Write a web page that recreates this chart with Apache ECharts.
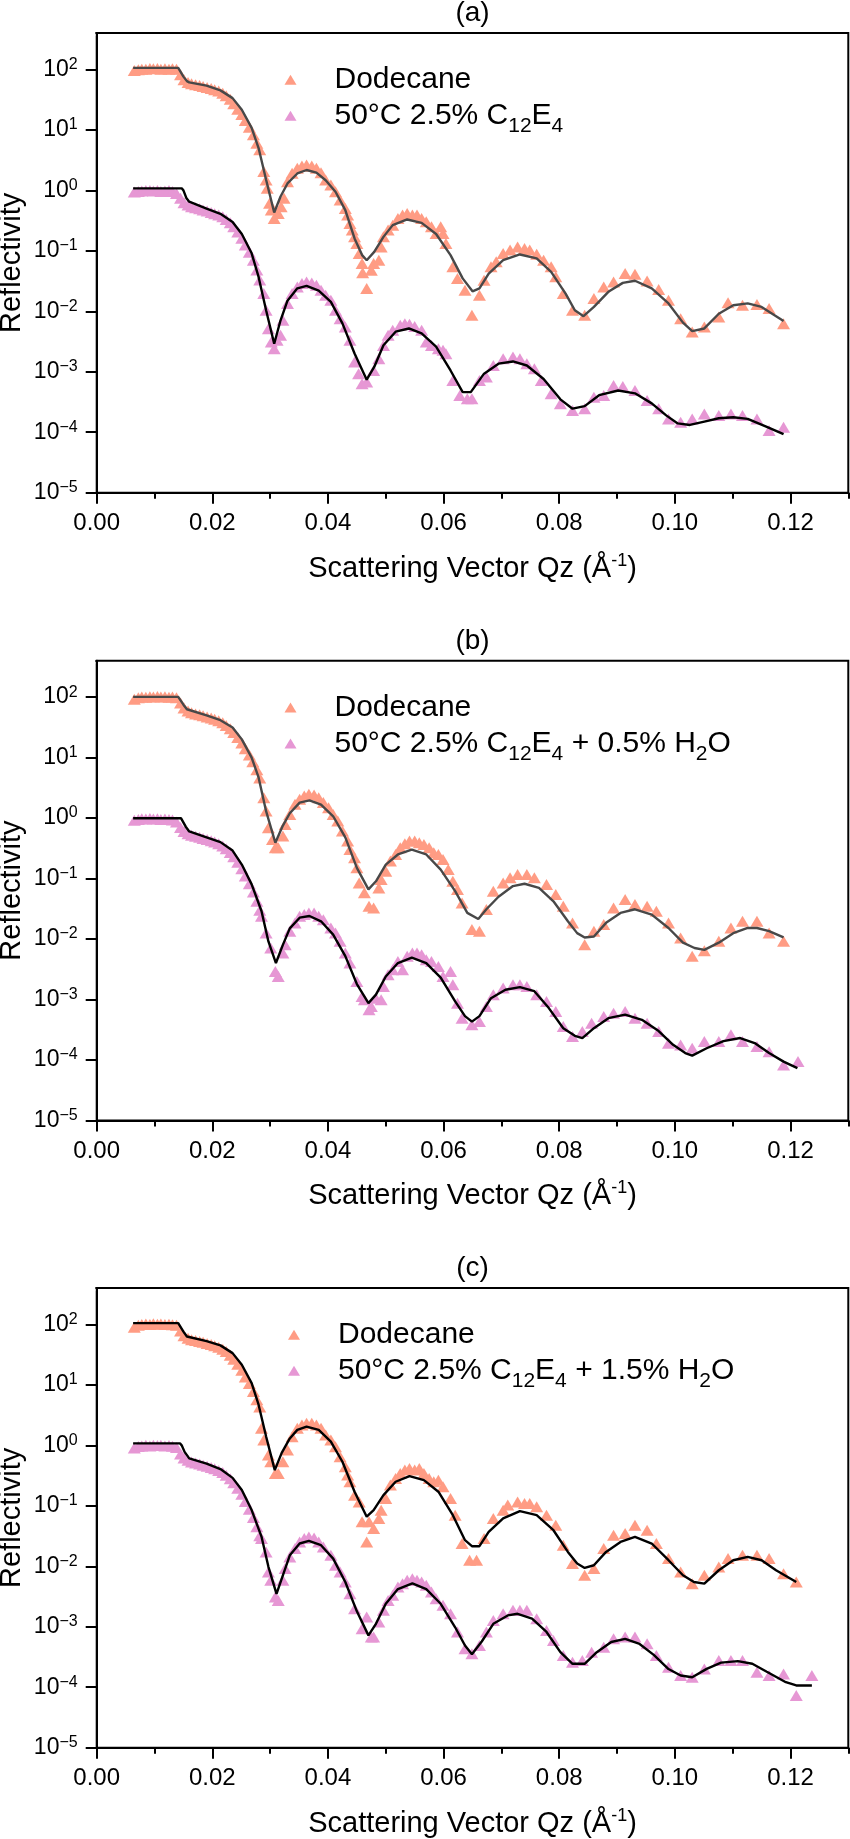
<!DOCTYPE html>
<html><head><meta charset="utf-8">
<script src="https://cdn.jsdelivr.net/npm/echarts@6/dist/echarts.min.js"></script>
<style>html,body{margin:0;padding:0;background:#fff}#c{width:850px;height:1839px}</style>
</head><body><div id="c"></div>
<script>
const panelTitles = ['(a)', '(b)', '(c)'];
const xTickValues = [0, 0.02, 0.04, 0.06, 0.08, 0.10, 0.12];
const yDecades = [1e-5, 1e-4, 1e-3, 1e-2, 1e-1, 1, 10, 100];
const dodName = 'Dodecane';
const mixNames = ['50°C 2.5% C12E4', '50°C 2.5% C12E4 + 0.5% H2O', '50°C 2.5% C12E4 + 1.5% H2O'];

// ---------- panel (a) ----------
const aDod = [[0.0065,96],[0.0072,98.7],[0.0078,101],[0.0085,101],[0.0092,104],[0.0098,102.5],[0.0105,104],[0.0111,101],[0.0118,102.5],[0.0125,101],[0.0131,102.5],[0.0138,101],[0.0145,81.5],[0.0151,67.4],[0.0158,60.9],[0.0164,57.9],[0.0171,55.7],[0.0178,54.3],[0.0184,52.3],[0.0191,50.3],[0.0198,48.4],[0.0204,46],[0.0211,43.8],[0.0218,40.5],[0.0224,36.6],[0.0231,32.2],[0.0237,27],[0.0244,22],[0.0251,18],[0.0257,14.3],[0.0264,11.1],[0.0271,8.3],[0.0277,6],[0.0282,4.7],
[0.0289,2.04],[0.0293,1.48],[0.0295,1.08],[0.0299,0.609],[0.0302,0.472],[0.0307,0.343],[0.0314,0.416],[0.0319,0.536],[0.0324,0.737],[0.0330,1.39],[0.0338,1.91],[0.0347,2.32],[0.0355,2.53],[0.0363,2.63],[0.0372,2.53],[0.0380,2.32],[0.0388,1.96],[0.0396,1.48],[0.0405,1.23],[0.0413,0.95],[0.0421,0.692],[0.0430,0.503],[0.0434,0.39],[0.0438,0.284],[0.0442,0.22],[0.0446,0.171],[0.0450,0.132],[0.0454,0.0903],[0.0459,0.0617],[0.0460,0.0432],[0.0467,0.0238],[0.0475,0.0478],[0.0479,0.0617],[0.0488,0.07],[0.0492,0.116],[0.0496,0.171],[0.0504,0.22],[0.0512,0.266],[0.0521,0.343],[0.0529,0.39],[0.0537,0.416],[0.0546,0.39],[0.0554,0.39],[0.0562,0.343],[0.0570,0.302],[0.0579,0.25],[0.0587,0.194],[0.0595,0.25],[0.0599,0.194],[0.0604,0.132],[0.0616,0.0543],[0.0624,0.0348],[0.0637,0.0223],[0.0649,0.00859],[0.0662,0.0184],[0.0670,0.0326],[0.0682,0.0543],[0.0691,0.0657],[0.0703,0.0903],[0.0715,0.103],[0.0728,0.116],[0.0740,0.109],[0.0749,0.103],[0.0761,0.088],[0.0773,0.07],[0.0786,0.0543],[0.0794,0.0371],[0.0807,0.0196],[0.0823,0.0104],[0.0844,0.00859],[0.0860,0.0162],[0.0877,0.0253],[0.0894,0.0306],[0.0914,0.0421],[0.0931,0.041],[0.0952,0.0318],[0.0972,0.0229],[0.0989,0.0152],[0.1010,0.00756],[0.1030,0.00455],[0.1051,0.0055],[0.1076,0.00806],[0.1092,0.0138],[0.1117,0.0126],[0.1142,0.013],[0.1163,0.0111],[0.1188,0.00625]];
const aMix = [[0.0065,0.94],[0.0072,0.96],[0.0078,0.975],[0.0085,0.99],[0.0092,0.99],[0.0098,0.975],[0.0105,0.99],[0.0111,0.96],[0.0118,0.975],[0.0125,0.99],[0.0131,0.96],[0.0138,0.89],[0.0145,0.737],[0.0151,0.625],[0.0158,0.571],[0.0164,0.536],[0.0171,0.516],[0.0178,0.497],[0.0184,0.472],[0.0191,0.454],[0.0198,0.432],[0.0204,0.41],[0.0211,0.39],[0.0218,0.366],[0.0224,0.331],[0.0231,0.291],[0.0237,0.25],[0.0244,0.204],[0.0251,0.162],[0.0257,0.125],[0.0264,0.095],[0.0271,0.07],[0.0277,0.048],[0.0282,0.033],
[0.0289,0.0196],[0.0293,0.0104],[0.0297,0.00516],[0.0302,0.0031],[0.0307,0.0024],[0.0312,0.00331],[0.0318,0.004],[0.0322,0.00709],[0.0330,0.0134],[0.0338,0.0196],[0.0347,0.0253],[0.0355,0.0287],[0.0363,0.0306],[0.0372,0.0295],[0.0380,0.027],[0.0388,0.0223],[0.0396,0.0184],[0.0405,0.0152],[0.0413,0.0104],[0.0421,0.00756],[0.0430,0.0055],[0.0438,0.00331],[0.0446,0.00145],[0.0453,0.000926],[0.0459,0.000632],[0.0467,0.000674],[0.0479,0.00105],[0.0488,0.00164],[0.0496,0.00273],[0.0504,0.004],[0.0512,0.00484],[0.0525,0.00586],[0.0533,0.00625],[0.0541,0.0061],[0.0550,0.0056],[0.0562,0.00484],[0.0570,0.0031],[0.0579,0.00273],[0.0591,0.0024],[0.0599,0.00226],[0.0604,0.00199],[0.0616,0.000718],[0.0628,0.000405],[0.0641,0.000357],[0.0649,0.000357],[0.0662,0.000718],[0.0674,0.000816],[0.0686,0.00127],[0.0703,0.00164],[0.0720,0.00175],[0.0732,0.00164],[0.0744,0.00136],[0.0757,0.00112],[0.0769,0.000718],[0.0786,0.000432],[0.0802,0.000295],[0.0823,0.000229],[0.0844,0.000244],[0.0860,0.00038],[0.0877,0.000405],[0.0894,0.000593],[0.0910,0.000571],[0.0931,0.00049],[0.0952,0.000335],[0.0972,0.000244],[0.0989,0.000166],[0.1010,0.000146],[0.1030,0.000166],[0.1051,0.000201],[0.1076,0.000189],[0.1097,0.000201],[0.1117,0.000189],[0.1142,0.000166],[0.1163,0.000107],[0.1188,0.000121]];
const aDodFit = [[0.0063,106],[0.0141,106],[0.0144,102],[0.0150,76],[0.0156,64],[0.016,61],[0.019,54],[0.0214,45],[0.0235,33.5],[0.0251,21.5],[0.0268,10.8],[0.028,5],[0.0293,1.5],[0.0307,0.43],[0.0318,0.79],[0.033,1.3],[0.0347,1.9],[0.0363,2.17],[0.038,1.96],[0.0396,1.47],[0.0413,0.95],[0.043,0.47],[0.0446,0.16],[0.0459,0.085],[0.0467,0.07],[0.048,0.096],[0.0496,0.17],[0.0512,0.266],[0.0537,0.33],[0.0562,0.29],[0.0587,0.19],[0.0612,0.085],[0.0633,0.035],[0.065,0.0214],[0.0662,0.024],[0.0678,0.042],[0.0703,0.07],[0.0732,0.087],[0.0761,0.075],[0.0786,0.045],[0.0811,0.0196],[0.0827,0.0104],[0.0842,0.0083],[0.086,0.0118],[0.0885,0.021],[0.091,0.0295],[0.0931,0.032],[0.096,0.024],[0.0989,0.0135],[0.1014,0.0065],[0.103,0.0047],[0.1051,0.0052],[0.1076,0.0091],[0.1101,0.0126],[0.1126,0.0135],[0.115,0.0118],[0.1188,0.0069]];
const aMixFit = [[0.0063,1.08],[0.0147,1.08],[0.0150,1.0],[0.0155,0.75],[0.016,0.65],[0.019,0.5],[0.0214,0.41],[0.0235,0.3],[0.0251,0.19],[0.0268,0.091],[0.028,0.037],[0.0293,0.0104],[0.0307,0.0029],[0.0318,0.0071],[0.033,0.015],[0.0347,0.024],[0.0363,0.0263],[0.0384,0.022],[0.0405,0.0143],[0.0425,0.0063],[0.0446,0.002],[0.0467,0.00074],[0.048,0.0012],[0.0496,0.00275],[0.0517,0.0046],[0.054,0.0052],[0.0562,0.0043],[0.0587,0.0026],[0.0612,0.00105],[0.0633,0.00046],[0.0647,0.00046],[0.067,0.00093],[0.0695,0.00136],[0.072,0.00148],[0.0744,0.00127],[0.0773,0.00076],[0.0802,0.00035],[0.0823,0.000245],[0.0844,0.00027],[0.0869,0.00041],[0.0902,0.00049],[0.0931,0.00044],[0.096,0.0003],[0.0985,0.00019],[0.1005,0.00014],[0.1026,0.000132],[0.1051,0.00015],[0.1076,0.00017],[0.1101,0.000177],[0.1126,0.000166],[0.1159,0.000123],[0.1188,0.000093]];

// ---------- panel (b) ----------
const bDod = [[0.0065,92],[0.0072,98],[0.0078,100],[0.0085,99],[0.0092,101],[0.0098,100],[0.0105,102],[0.0111,100],[0.0118,101],[0.0125,99],[0.0131,100],[0.0138,98],[0.0145,80],[0.0151,66],[0.0158,59],[0.0164,55],[0.0171,52.5],[0.0178,51],[0.0184,49],[0.0191,47],[0.0198,45],[0.0204,43],[0.0211,40.5],[0.0218,37.5],[0.0224,34],[0.0231,30],[0.0237,26],[0.0244,21.5],[0.0251,17.5],[0.0257,14],[0.0264,11],[0.027,8.5],[0.0277,6.3],[0.0282,4.6],
[0.0289,2.17],[0.0293,1.31],[0.0297,0.692],[0.0304,0.443],[0.0309,0.322],[0.0314,0.322],[0.0322,0.503],[0.0326,0.785],[0.0334,1.15],[0.0343,1.69],[0.0351,2.04],[0.0359,2.32],[0.0367,2.47],[0.0376,2.41],[0.0384,2.17],[0.0392,1.80],[0.0401,1.48],[0.0409,1.15],[0.0417,0.89],[0.0425,0.609],[0.0434,0.416],[0.0438,0.302],[0.0446,0.22],[0.0450,0.15],[0.0454,0.0847],[0.0463,0.0579],[0.0471,0.0348],[0.0479,0.0326],[0.0488,0.07],[0.0492,0.0963],[0.0500,0.132],[0.0508,0.194],[0.0517,0.25],[0.0525,0.322],[0.0533,0.376],[0.0541,0.416],[0.0550,0.416],[0.0558,0.39],[0.0566,0.366],[0.0575,0.322],[0.0583,0.266],[0.0591,0.25],[0.0599,0.206],[0.0608,0.141],[0.0616,0.0903],[0.0624,0.0657],[0.0632,0.0395],[0.0649,0.0143],[0.0662,0.0134],[0.0674,0.0306],[0.0686,0.0617],[0.0703,0.0847],[0.0715,0.103],[0.0728,0.116],[0.0744,0.116],[0.0757,0.103],[0.0778,0.0795],[0.0794,0.0543],[0.0807,0.0348],[0.0823,0.0184],[0.0844,0.00806],[0.0860,0.0134],[0.0877,0.0173],[0.0894,0.0326],[0.0914,0.0448],[0.0931,0.0371],[0.0952,0.0348],[0.0968,0.0287],[0.0989,0.0184],[0.1010,0.0104],[0.1030,0.00516],[0.1051,0.00641],[0.1076,0.00915],[0.1097,0.0152],[0.1117,0.0196],[0.1142,0.0196],[0.1163,0.0126],[0.1188,0.00915]];
const bMix = [[0.0065,0.92],[0.0072,0.95],[0.0078,0.97],[0.0085,0.96],[0.0092,0.98],[0.0098,0.96],[0.0105,0.97],[0.0111,0.95],[0.0118,0.96],[0.0125,0.95],[0.0131,0.93],[0.0138,0.86],[0.0145,0.7],[0.0151,0.6],[0.0158,0.55],[0.0164,0.52],[0.0171,0.5],[0.0178,0.48],[0.0184,0.46],[0.0191,0.44],[0.0198,0.42],[0.0204,0.4],[0.0211,0.375],[0.0218,0.345],[0.0224,0.31],[0.0231,0.27],[0.0237,0.23],[0.0244,0.185],[0.0251,0.145],[0.0257,0.11],[0.0264,0.082],[0.0271,0.06],[0.0277,0.042],[0.0282,0.03],
[0.0285,0.0238],[0.0293,0.0126],[0.0301,0.00709],[0.0309,0.00291],[0.0314,0.0024],[0.0322,0.00586],[0.0326,0.00806],[0.0334,0.0134],[0.0343,0.0184],[0.0351,0.0238],[0.0359,0.0253],[0.0367,0.027],[0.0376,0.027],[0.0384,0.0238],[0.0392,0.0209],[0.0405,0.0152],[0.0413,0.0126],[0.0421,0.00915],[0.0430,0.00586],[0.0438,0.004],[0.0450,0.00199],[0.0459,0.00112],[0.0463,0.000988],[0.0471,0.000674],[0.0475,0.000766],[0.0483,0.00105],[0.0492,0.000988],[0.0496,0.00164],[0.0504,0.00256],[0.0512,0.0031],[0.0521,0.00426],[0.0529,0.0031],[0.0537,0.00516],[0.0546,0.00586],[0.0554,0.00586],[0.0562,0.0055],[0.0570,0.00455],[0.0579,0.00426],[0.0591,0.00352],[0.0599,0.0024],[0.0612,0.00291],[0.0616,0.00175],[0.0624,0.000869],[0.0632,0.00049],[0.0649,0.00038],[0.0662,0.000432],[0.0674,0.000766],[0.0686,0.0012],[0.0703,0.00154],[0.0720,0.00175],[0.0732,0.00175],[0.0744,0.00164],[0.0761,0.0012],[0.0778,0.000926],[0.0794,0.000632],[0.0807,0.000357],[0.0823,0.000244],[0.0840,0.000295],[0.0856,0.000405],[0.0877,0.000523],[0.0894,0.000593],[0.0914,0.000632],[0.0931,0.00049],[0.0952,0.000405],[0.0972,0.000295],[0.0989,0.000189],[0.1010,0.000177],[0.1030,0.000156],[0.1051,0.000201],[0.1076,0.000201],[0.1097,0.00026],[0.1117,0.000201],[0.1142,0.000166],[0.1163,0.000137],[0.1188,0.0000826],[0.1213,0.0000939]];
const bDodFit = [[0.0063,101],[0.0141,101],[0.0144,98],[0.0150,75],[0.0156,63],[0.019,50],[0.0214,41.5],[0.0235,31.4],[0.0251,20],[0.0268,10],[0.028,4.7],[0.0293,1.3],[0.0309,0.39],[0.0322,0.75],[0.0334,1.2],[0.0351,1.8],[0.0368,1.96],[0.0388,1.67],[0.0409,1.07],[0.043,0.48],[0.045,0.15],[0.047,0.066],[0.0483,0.09],[0.05,0.17],[0.0521,0.25],[0.0545,0.30],[0.057,0.25],[0.0595,0.14],[0.062,0.062],[0.0641,0.027],[0.066,0.0214],[0.0674,0.031],[0.0695,0.05],[0.072,0.075],[0.074,0.082],[0.0765,0.07],[0.079,0.042],[0.0815,0.0196],[0.0831,0.0125],[0.0844,0.0106],[0.086,0.011],[0.0881,0.0185],[0.0906,0.027],[0.0931,0.031],[0.096,0.0253],[0.0989,0.0152],[0.1014,0.0087],[0.1034,0.0071],[0.1051,0.0066],[0.1076,0.0087],[0.1101,0.0125],[0.1126,0.0152],[0.1142,0.0152],[0.1163,0.0135],[0.1188,0.0106]];
const bMixFit = [[0.0063,0.99],[0.0146,0.99],[0.0149,0.92],[0.0154,0.72],[0.016,0.6],[0.019,0.48],[0.0214,0.4],[0.0235,0.29],[0.0251,0.17],[0.0268,0.08],[0.0285,0.029],[0.0297,0.0091],[0.031,0.004],[0.0322,0.008],[0.0334,0.015],[0.0351,0.0225],[0.0368,0.024],[0.0388,0.0196],[0.0409,0.0118],[0.043,0.0052],[0.045,0.0018],[0.047,0.00087],[0.0483,0.0012],[0.05,0.0024],[0.0521,0.004],[0.0545,0.0049],[0.057,0.004],[0.0595,0.0023],[0.062,0.00093],[0.0637,0.00053],[0.0649,0.00043],[0.0662,0.00053],[0.0682,0.00105],[0.0707,0.00145],[0.0732,0.0016],[0.0757,0.00137],[0.0782,0.00072],[0.0807,0.000335],[0.0827,0.00025],[0.084,0.00023],[0.086,0.000335],[0.0885,0.00049],[0.0914,0.00056],[0.0943,0.00046],[0.0972,0.0003],[0.0997,0.000178],[0.1018,0.00013],[0.103,0.000118],[0.1055,0.000156],[0.1084,0.000205],[0.1113,0.00023],[0.1138,0.00019],[0.1163,0.00013],[0.1188,0.0000938],[0.1212,0.000073]];

// ---------- panel (c) ----------
const cDod = [[0.0065,90],[0.0072,97],[0.0078,100],[0.0085,102],[0.0092,100],[0.0098,103],[0.0105,101],[0.0111,102],[0.0118,100],[0.0125,101],[0.0131,99],[0.0138,97],[0.0145,78],[0.0151,65],[0.0158,59],[0.0164,56],[0.0171,54],[0.0178,52],[0.0184,50.5],[0.0191,48.5],[0.0198,46.5],[0.0204,44.5],[0.0211,42],[0.0218,39],[0.0224,35.5],[0.0231,31],[0.0237,26.5],[0.0244,22],[0.0251,17.5],[0.0257,13.5],[0.0264,10.5],[0.0271,7.8],[0.0277,5.7],[0.0282,4.3],
[0.0285,1.91],[0.0289,1.23],[0.0297,0.692],[0.0301,0.536],[0.0309,0.343],[0.0314,0.343],[0.0322,0.536],[0.0330,0.84],[0.0338,1.39],[0.0347,1.91],[0.0355,2.17],[0.0363,2.32],[0.0372,2.32],[0.0380,2.17],[0.0388,1.91],[0.0396,1.48],[0.0405,1.23],[0.0413,0.95],[0.0421,0.649],[0.0430,0.443],[0.0434,0.322],[0.0438,0.25],[0.0446,0.15],[0.0454,0.116],[0.0459,0.0543],[0.0467,0.0253],[0.0471,0.0543],[0.0479,0.0421],[0.0488,0.0617],[0.0492,0.0847],[0.0500,0.132],[0.0508,0.22],[0.0517,0.284],[0.0525,0.343],[0.0533,0.39],[0.0541,0.416],[0.0550,0.39],[0.0558,0.416],[0.0566,0.343],[0.0575,0.284],[0.0583,0.25],[0.0591,0.266],[0.0599,0.206],[0.0612,0.132],[0.0620,0.07],[0.0632,0.0238],[0.0645,0.0126],[0.0657,0.0126],[0.0670,0.0287],[0.0686,0.0617],[0.0703,0.0847],[0.0711,0.103],[0.0728,0.116],[0.0740,0.109],[0.0749,0.109],[0.0761,0.0963],[0.0778,0.07],[0.0794,0.0478],[0.0807,0.0223],[0.0823,0.0111],[0.0844,0.00709],[0.0860,0.00915],[0.0877,0.0196],[0.0894,0.0326],[0.0914,0.0348],[0.0931,0.0478],[0.0952,0.0395],[0.0968,0.0238],[0.0989,0.0134],[0.1010,0.00806],[0.1030,0.00516],[0.1051,0.00709],[0.1076,0.00975],[0.1092,0.0134],[0.1117,0.0152],[0.1142,0.0152],[0.1163,0.0134],[0.1188,0.00756],[0.1210,0.0055]];
const cMix = [[0.0065,0.9],[0.0072,0.96],[0.0078,0.98],[0.0085,1.0],[0.0092,0.98],[0.0098,1.0],[0.0105,0.99],[0.0111,1.0],[0.0118,0.98],[0.0125,0.99],[0.0131,0.97],[0.0138,0.92],[0.0145,0.72],[0.0151,0.62],[0.0158,0.565],[0.0164,0.53],[0.0171,0.51],[0.0178,0.49],[0.0184,0.47],[0.0191,0.45],[0.0198,0.43],[0.0204,0.41],[0.0211,0.385],[0.0218,0.355],[0.0224,0.32],[0.0231,0.28],[0.0237,0.24],[0.0244,0.195],[0.0251,0.155],[0.0257,0.118],[0.0264,0.088],[0.0271,0.064],[0.0277,0.045],[0.0282,0.032],
[0.0285,0.0287],[0.0293,0.0173],[0.0297,0.00806],[0.0301,0.00586],[0.0309,0.0031],[0.0314,0.00273],[0.0322,0.00586],[0.0326,0.00915],[0.0334,0.0143],[0.0343,0.0196],[0.0351,0.0253],[0.0359,0.0287],[0.0367,0.0306],[0.0376,0.0295],[0.0384,0.0253],[0.0392,0.0209],[0.0405,0.0152],[0.0413,0.0104],[0.0421,0.00806],[0.0430,0.0055],[0.0438,0.00352],[0.0446,0.00199],[0.0459,0.000926],[0.0467,0.00145],[0.0475,0.000674],[0.0479,0.000674],[0.0488,0.0012],[0.0496,0.00187],[0.0504,0.00273],[0.0512,0.00331],[0.0521,0.00455],[0.0529,0.00516],[0.0537,0.00586],[0.0546,0.00625],[0.0554,0.00586],[0.0562,0.0055],[0.0570,0.00484],[0.0579,0.00375],[0.0587,0.00291],[0.0599,0.00226],[0.0612,0.00164],[0.0624,0.000816],[0.0637,0.000432],[0.0649,0.000357],[0.0662,0.00049],[0.0674,0.000816],[0.0686,0.00127],[0.0703,0.00164],[0.0720,0.00187],[0.0732,0.00187],[0.0744,0.00187],[0.0761,0.00136],[0.0778,0.000869],[0.0790,0.000593],[0.0807,0.000335],[0.0823,0.00026],[0.0840,0.000277],[0.0856,0.00038],[0.0877,0.00046],[0.0894,0.000632],[0.0914,0.000674],[0.0931,0.000674],[0.0952,0.000523],[0.0968,0.000335],[0.0989,0.000213],[0.1010,0.000156],[0.1030,0.000146],[0.1051,0.000201],[0.1076,0.000277],[0.1097,0.000277],[0.1117,0.000277],[0.1142,0.000177],[0.1163,0.000156],[0.1188,0.000166],[0.1210,0.0000728],[0.1237,0.000156]];
const cDodFit = [[0.0063,105],[0.0141,105],[0.0144,101],[0.0150,76],[0.0156,63],[0.019,53],[0.0214,45],[0.0235,33.5],[0.0251,21.5],[0.0268,10.7],[0.028,4.7],[0.0293,1.4],[0.0308,0.39],[0.032,0.75],[0.0334,1.3],[0.0347,1.8],[0.0363,2.04],[0.0384,1.8],[0.0405,1.15],[0.0425,0.536],[0.0446,0.171],[0.0467,0.066],[0.0479,0.085],[0.0496,0.15],[0.0517,0.25],[0.0541,0.31],[0.0566,0.266],[0.0591,0.171],[0.0616,0.07],[0.0637,0.027],[0.0649,0.0215],[0.0662,0.0215],[0.0678,0.037],[0.0703,0.062],[0.0732,0.0816],[0.0761,0.07],[0.079,0.0395],[0.0815,0.0173],[0.0831,0.0111],[0.0844,0.0094],[0.086,0.0104],[0.0881,0.0173],[0.0906,0.0253],[0.0931,0.0306],[0.096,0.0238],[0.0989,0.0126],[0.1014,0.0071],[0.1033,0.0055],[0.1051,0.00516],[0.1076,0.0086],[0.1101,0.0126],[0.1126,0.0143],[0.115,0.0126],[0.1175,0.0086],[0.121,0.0055]];
const cMixFit = [[0.0063,1.08],[0.0144,1.08],[0.0147,1.0],[0.0152,0.78],[0.016,0.61],[0.019,0.5],[0.0214,0.405],[0.0235,0.29],[0.0251,0.182],[0.0268,0.085],[0.0285,0.031],[0.0297,0.0098],[0.0311,0.0035],[0.0322,0.0071],[0.0334,0.0152],[0.0351,0.0238],[0.0367,0.0263],[0.0388,0.0223],[0.0409,0.0134],[0.043,0.0055],[0.045,0.0018],[0.047,0.00072],[0.0483,0.00112],[0.05,0.0024],[0.0521,0.0042],[0.0546,0.0052],[0.057,0.0042],[0.0595,0.0024],[0.062,0.00098],[0.0637,0.00049],[0.0649,0.00035],[0.0666,0.00057],[0.0686,0.00112],[0.0711,0.00154],[0.0728,0.00164],[0.0753,0.00136],[0.0778,0.00082],[0.0802,0.00038],[0.0823,0.000244],[0.0844,0.000244],[0.0865,0.00038],[0.089,0.00056],[0.0914,0.00063],[0.0939,0.00052],[0.0964,0.00034],[0.0989,0.0002],[0.101,0.000156],[0.103,0.000146],[0.1055,0.000201],[0.108,0.000255],[0.1109,0.00027],[0.1134,0.000244],[0.1159,0.00018],[0.1192,0.000121],[0.121,0.000107],[0.1237,0.000107]];

const panels = [
  {dod: aDod, mix: aMix, dodFit: aDodFit, mixFit: aMixFit, dodFitColor: '#484848'},
  {dod: bDod, mix: bMix, dodFit: bDodFit, mixFit: bMixFit, dodFitColor: '#484848'},
  {dod: cDod, mix: cMix, dodFit: cDodFit, mixFit: cMixFit, dodFitColor: '#000000'}
];

const FONT = '"Liberation Sans", Arial, Helvetica, sans-serif';
const DOD_COLOR = '#FF9C84';
const MIX_COLOR = '#E697D4';
const tops = [33, 660.7, 1288];
const GL = 96.7, GR = 1.7, GH = 459.7;
const legendLeft = [284.5, 284.5, 288];

const legendRich = {
  'Dodecane': '{sp| }{t|Dodecane}',
  '50°C 2.5% C12E4': '{sp| }{t|50°C 2.5% C}{sub|12}{t|E}{sub|4}',
  '50°C 2.5% C12E4 + 0.5% H2O': '{sp| }{t|50°C 2.5% C}{sub|12}{t|E}{sub|4}{t| + 0.5% H}{sub|2}{t|O}',
  '50°C 2.5% C12E4 + 1.5% H2O': '{sp| }{t|50°C 2.5% C}{sub|12}{t|E}{sub|4}{t| + 1.5% H}{sub|2}{t|O}'
};

function yFmt(v) {
  const e = Math.log10(v);
  const r = Math.round(e);
  if (Math.abs(e - r) > 0.01) return '';
  return '{b|10}{s|' + (r < 0 ? '\u2212' + (-r) : String(r)) + '}';
}
function xFmt(v) {
  const k = Math.round(v * 100);
  if (k % 2 !== 0) return '';
  return v.toFixed(2);
}

const grid = [], xAxis = [], yAxis = [], series = [], legend = [], title = [], graphic = [];
panels.forEach((P, p) => {
  grid.push({left: GL, right: GR, top: tops[p], height: GH, show: true, borderColor: '#000', borderWidth: 2,
    backgroundColor: 'transparent', containLabel: false, outerBoundsMode: 'none'});
  xAxis.push({
    type: 'value', gridIndex: p, min: 0, max: 0.13, interval: 0.01, position: 'bottom',
    axisLine: {show: true, onZero: false, lineStyle: {color: '#000', width: 2}},
    axisTick: {show: true, inside: false, length: 6, lineStyle: {color: '#000', width: 2}},
    axisLabel: {show: true, margin: 19, fontSize: 24, lineHeight: 24, color: '#000', fontFamily: FONT, formatter: xFmt, hideOverlap: false},
    splitLine: {show: false},
    name: '{t|Scattering Vector Qz (Å}{sup|-1}{t|)}', nameLocation: 'middle', nameGap: 59, nameMoveOverlap: false,
    nameTextStyle: {fontFamily: FONT, fontSize: 29, color: '#000',
      rich: {t: {fontSize: 29, lineHeight: 34, fontFamily: FONT, color: '#000'},
             sup: {fontSize: 18, lineHeight: 16, verticalAlign: 'top', fontFamily: FONT, color: '#000'}}}
  });
  xAxis.push({
    type: 'value', gridIndex: p, min: 0, max: 0.13, position: 'bottom',
    axisLine: {show: false},
    axisTick: {show: true, inside: false, length: 11, customValues: xTickValues, lineStyle: {color: '#000', width: 2}},
    axisLabel: {show: false}, splitLine: {show: false}
  });
  yAxis.push({
    type: 'log', logBase: 10, gridIndex: p, min: yDecades[0], max: 400, splitNumber: 7,
    axisLine: {show: true, onZero: false, lineStyle: {color: '#000', width: 2}},
    axisTick: {show: true, inside: false, length: 11, lineStyle: {color: '#000', width: 2}},
    minorTick: {show: false}, splitLine: {show: false},
    axisLabel: {margin: 19, formatter: yFmt, color: '#000', fontFamily: FONT,
      rich: {b: {fontSize: 23, lineHeight: 26, fontFamily: FONT, color: '#000'},
             s: {fontSize: 16, lineHeight: 14, verticalAlign: 'top', fontFamily: FONT, color: '#000'}}},
    name: 'Reflectivity', nameLocation: 'middle', nameGap: 68, nameMoveOverlap: false,
    nameTextStyle: {fontFamily: FONT, fontSize: 29, lineHeight: 34, color: '#000'}
  });
  series.push({type: 'scatter', name: dodName, xAxisIndex: 2 * p, yAxisIndex: p, data: P.dod,
    symbol: 'triangle', symbolSize: [13, 11], itemStyle: {color: DOD_COLOR, opacity: 1}, z: 2, silent: true});
  series.push({type: 'scatter', name: mixNames[p], xAxisIndex: 2 * p, yAxisIndex: p, data: P.mix,
    symbol: 'triangle', symbolSize: [13, 11], itemStyle: {color: MIX_COLOR, opacity: 1}, z: 2, silent: true});
  series.push({type: 'line', name: 'fitD' + p, xAxisIndex: 2 * p, yAxisIndex: p, data: P.dodFit,
    showSymbol: false, symbol: 'none', lineStyle: {color: P.dodFitColor, width: 2.4}, itemStyle: {color: P.dodFitColor}, z: 3, silent: true});
  series.push({type: 'line', name: 'fitM' + p, xAxisIndex: 2 * p, yAxisIndex: p, data: P.mixFit,
    showSymbol: false, symbol: 'none', lineStyle: {color: '#000', width: 2.4}, itemStyle: {color: '#000'}, z: 3, silent: true});
  legend.push({
    data: [dodName, mixNames[p]], orient: 'vertical', left: legendLeft[p], top: tops[p] + 31.7,
    itemWidth: 12, itemHeight: 10, itemGap: 4, padding: 0, selectedMode: false,
    formatter: name => legendRich[name],
    textStyle: {fontFamily: FONT, fontSize: 30, color: '#000',
      rich: {sp: {width: 33, lineHeight: 34, fontSize: 30},
             t: {fontSize: 30, lineHeight: 34, fontFamily: FONT, color: '#000'},
             sub: {fontSize: 21, lineHeight: 10, verticalAlign: 'top', padding: [17, 0, 0, 0], fontFamily: FONT, color: '#000'}}}
  });
  title.push({text: panelTitles[p], left: GL + (850 - GL - GR) / 2, top: tops[p] - 33.5, textAlign: 'center', textVerticalAlign: 'top',
    padding: 0, textStyle: {fontSize: 28, lineHeight: 28, fontWeight: 'normal', color: '#000', fontFamily: FONT}});
  graphic.push({type: 'rect', shape: {x: 82, y: tops[p] - 3, width: 13.3, height: 6}, style: {fill: '#fff'}, z: 100, silent: true});
});

const chart = echarts.init(document.getElementById('c'), null, {renderer: 'canvas'});
chart.setOption({animation: false, backgroundColor: '#fff', grid, xAxis, yAxis, series, legend, title, graphic, tooltip: {show: false}});
</script></body></html>
